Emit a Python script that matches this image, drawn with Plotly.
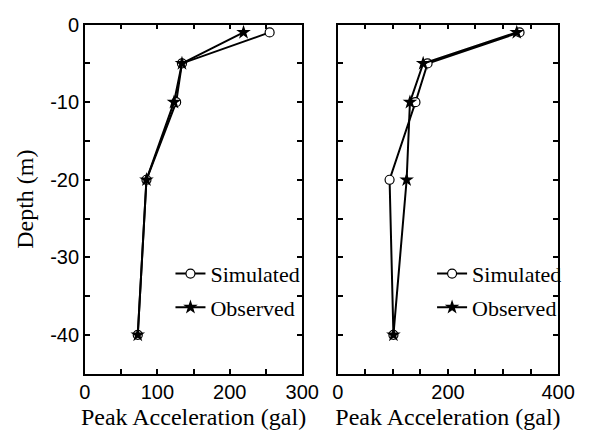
import plotly.graph_objects as go

depth = [-1, -5, -10, -20, -40]
sim_left = [255, 134, 126, 85, 73]
obs_left = [219, 134, 123, 85, 73]
sim_right = [330, 163, 141, 94, 101]
obs_right = [325, 155, 131, 125, 101]

ytick_vals = [0, -10, -20, -30, -40]
ytick_text = ["0", "-10", "-20", "-30", "-40"]

W, H = 602, 439
serif = "Liberation Serif"
sans = "Liberation Sans"

fig = go.Figure()

def add_pair(sim, obs, xa, ya, leg):
    fig.add_trace(go.Scatter(x=sim, y=depth, xaxis=xa, yaxis=ya, mode="lines+markers",
                             name="Simulated", legend=leg, legendgroup=leg + "s",
                             line=dict(color="black", width=2),
                             marker=dict(symbol="circle", size=9, color="white",
                                         line=dict(color="black", width=1.2))))
    fig.add_trace(go.Scatter(x=obs, y=depth, xaxis=xa, yaxis=ya, mode="lines+markers",
                             name="Observed", legend=leg, legendgroup=leg + "o",
                             line=dict(color="black", width=2),
                             marker=dict(symbol="star", size=11, color="black",
                                         line=dict(color="black", width=0))))

add_pair(sim_left, obs_left, "x", "y", "legend")
add_pair(sim_right, obs_right, "x2", "y2", "legend2")

def px(v):
    return v / W

def py(v):
    return 1 - v / H

axis_common = dict(showline=True, linecolor="black", linewidth=1.5, mirror="allticks",
                   ticks="inside", ticklen=5, tickwidth=1.5, tickcolor="black",
                   showgrid=False, zeroline=False,
                   tickfont=dict(family=sans, size=20, color="black"))
minor_x = dict(dtick=50, ticks="inside", ticklen=5, tickwidth=1.5, tickcolor="black")
minor_y = dict(dtick=5, ticks="inside", ticklen=5, tickwidth=1.5, tickcolor="black")
title_font = dict(family=serif, size=24, color="black")
legend_font = dict(family=serif, size=22, color="black")

ydom = [py(372), py(14)]
fig.update_layout(
    width=W, height=H, margin=dict(l=0, r=0, t=0, b=0),
    plot_bgcolor="white", paper_bgcolor="white", showlegend=True,
    xaxis=dict(domain=[px(82), px(308)], range=[0, 300], anchor="y",
               tickvals=[0, 100, 200, 300], minor=minor_x,
               title=dict(text="Peak Acceleration (gal)", font=title_font, standoff=6),
               **axis_common),
    yaxis=dict(domain=ydom, range=[-45, 0], anchor="x",
               tickvals=ytick_vals, ticktext=ytick_text, minor=minor_y,
               title=dict(text="Depth (m)", font=title_font, standoff=10),
               **axis_common),
    xaxis2=dict(domain=[px(345), px(574)], range=[0, 400], anchor="y2",
                tickvals=[0, 200, 400], minor=minor_x,
                title=dict(text="Peak Acceleration (gal)", font=title_font, standoff=6),
                **axis_common),
    yaxis2=dict(domain=ydom, range=[-45, 0], anchor="x2",
                tickvals=ytick_vals, showticklabels=False, minor=minor_y,
                **axis_common),
    legend=dict(x=px(171), y=py(248), xanchor="left", yanchor="top",
                bgcolor="rgba(0,0,0,0)", tracegroupgap=2, traceorder="grouped",
                font=legend_font),
    legend2=dict(x=px(443), y=py(248), xanchor="left", yanchor="top",
                 bgcolor="rgba(0,0,0,0)", tracegroupgap=2, traceorder="grouped",
                 font=legend_font),
)

fig.write_html("out.html")
